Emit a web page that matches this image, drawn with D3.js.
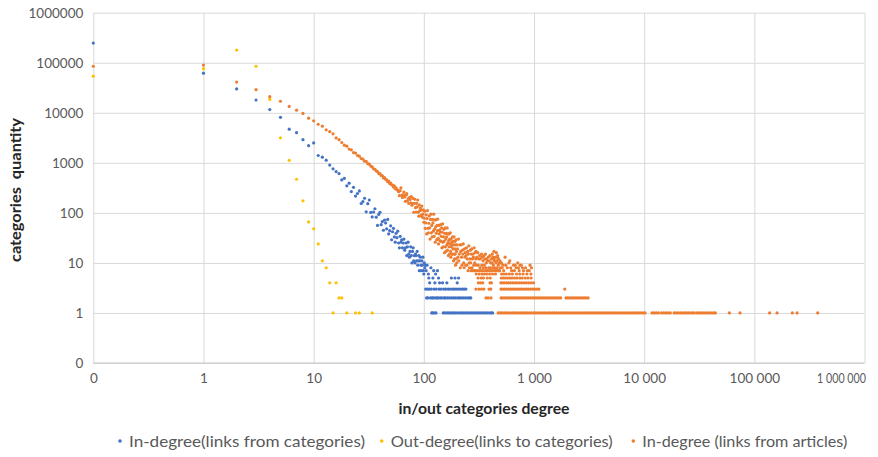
<!DOCTYPE html>
<html>
<head>
<meta charset="utf-8">
<script src="https://cdn.jsdelivr.net/npm/d3@7"></script>
<style>
  html, body { margin: 0; padding: 0; background: #fff; }
  svg { display: block; font-family: Lato, "Open Sans", "Liberation Sans", sans-serif; }
</style>
</head>
<body>
<svg id="chart" width="878" height="457"></svg>
<script>
// ---- axis ticks -------------------------------------------------------
// A zero degree / zero count cannot sit on a log axis, so both axes start
// one decade below 1 and that floor is labelled "0".
const AXIS_FLOOR = 0.1;
const xTickValues = [0.1, 1, 10, 100, 1000, 10000, 100000, 1000000];
const xTickLabels = ["0", "1", "10", "100", "1 000", "10 000", "100 000", "1 000 000"];
const yTickValues = [0.1, 1, 10, 100, 1000, 10000, 100000, 1000000];
const yTickLabels = ["0", "1", "10", "100", "1000", "10000", "100000", "1000000"];

const seriesNames = [
  "In-degree(links from categories)",
  "Out-degree(links to categories)",
  "In-degree (links from articles)"
];

// ---- In-degree (links from categories): [degree, categories] ----------
const inCatHead = [
  [0,247000],[1,62000],[2,30000],[3,18000],[4,11600],[5,8100],[6,4700],[7,4000],
  [8,2900],[9,2200],[10,2500],[11,1400],[12,1300],[13,1130],[14,900],[15,760],
  [16,670],[17,610],[18,455],[19,490],[20,347],[21,393],[22,267],[23,324],[24,217],
  [25,244],[26,274],[27,154],[28,168],[29,196],[30,105],[31,153],[32,181],[33,102],
  [34,83],[35,104],[36,121],[37,82],[38,56],[39,93],[40,103],[41,58],[42,67],[43,45],
  [44,72],[45,63],[46,48],[47,74],[48,38],[49,44],[50,55],[51,29],[52,42],[53,49],
  [54,33],[55,26],[56,39],[57,32],[58,43],[59,25],[60,20],[61,34],[62,26],[63,29],
  [64,20],[65,25],[66,30],[67,18],[68,20],[69,25],[70,14],[71,21],[72,26],[73,15],
  [74,13],[75,17],[76,21],[77,14],[78,10],[79,17],[80,20],[81,11],[82,14],[83,10],
  [84,15],[85,14],[86,11],[87,17],[88,9],[89,11],[90,14],[91,7],[92,11],[93,13],
  [94,9],[95,7],[96,11],[97,9],[98,13],[99,7],[100,6],[101,10],[102,8],[103,9],
  [105,7],[107,9],[110,6],[116,8],[123,7],[128,6],[133,7]
];
const inCatCount5 = [111, 121, 136, 178, 192, 207];
const inCatCount4 = [113, 126, 139, 148, 162, 201];
const inCatCount3 = [104, 108, 112, 117, 124, 130, 138, 144, 152, 158, 166, 173, 182, 188, 196, 205, 214, 224, 232, 241];
const inCatCount2 = [106, 109, 115, 119, 122, 127, 132, 135, 141, 146, 153, 157, 164, 171, 179, 186, 194, 203, 211, 219, 228, 238, 249, 259, 267];
const inCatCount1 = [118, 120, 125, 129, 150, 156, 163, 169, 176, 184, 191, 199, 209, 218, 227, 237, 247, 258, 270, 281, 293, 306, 319, 332, 346, 361, 376, 392, 409, 421];

// ---- Out-degree (links to categories): [degree, categories] -----------
const outCat = [
  [0,54000],[1,76000],[2,179000],[3,85000],[4,18500],[5,3160],[6,1120],[7,470],
  [8,174],[9,66],[10,48],[11,24],[12,11],[13,8],[14,4],[15,1],[16,4],[17,2],
  [18,2],[20,1],[24,1],[26,1],[34,1]
];

// ---- In-degree (links from articles): [degree, categories] ------------
const inArtHead = [
  [0,85000],[1,90000],[2,41000],[3,29000],[4,21000],[5,17000],[6,13400],[7,11300],
  [8,9700],[9,7800],[10,6900],[11,5900],[12,5400],[13,4570],[14,4200],[15,3800],
  [16,3150],[17,2900],[18,2550],[19,2250],[20,2150],[21,1880],[22,1820],[23,1600],
  [24,1570],[25,1400],[26,1360],[27,1220],[28,1190],[29,1080],[30,1070],[31,960],
  [32,940],[33,860],[34,830],[35,760],[36,745],[37,690],[38,670],[39,610],[40,610],
  [41,560],[42,550],[43,500],[44,505],[45,470],[46,455],[47,420],[48,430],[49,385],
  [50,395],[51,365],[52,360],[53,330],[54,345],[55,305],[56,315],[57,290],[58,285],
  [59,265],[60,221],[61,278],[62,316],[63,225],[64,204],[65,233],[66,261],[67,208],
  [68,170],[69,226],[70,242],[71,172],[72,190],[73,154],[74,202],[75,186],[76,159],
  [77,212],[78,142],[79,154],[80,194],[81,103],[82,155],[83,187],[84,127],[85,104],
  [86,155],[87,132],[88,181],[89,103],[90,86],[91,144],[92,111],[93,125],[94,89],
  [95,113],[96,137],[97,82],[98,94],[99,115],[100,65]
];
const inArtCloud = [
  [101,78],[102,108],[103,49],[104,63],[105,91],[106,38],[107,77],[108,111],[109,49],
  [110,40],[111,62],[112,87],[113,50],[114,30],[115,74],[116,94],[117,40],[118,56],
  [119,33],[120,74],[121,63],[122,43],[123,94],[124,34],[125,47],[126,72],[127,26],
  [128,52],[129,73],[130,39],[131,29],[132,56],[133,44],[134,75],[135,31],[136,24],
  [137,56],[138,38],[139,46],[140,28],[141,42],[142,58],[143,27],[144,34],[145,50],
  [146,20],[147,41],[148,60],[149,26],[150,21],[151,33],[152,47],[153,27],[154,16],
  [155,39],[156,50],[157,21],[158,30],[159,17],[160,39],[161,33],[162,23],[163,50],
  [164,18],[165,25],[166,38],[167,14],[168,28],[169,38],[170,21],[171,15],[172,30],
  [173,24],[174,40],[175,17],[176,13],[177,30],[178,21],[179,26],[180,15],[181,23],
  [182,33],[183,15],[184,19],[185,27],[186,11],[187,23],[188,33],[189,15],[190,12],
  [191,19],[192,27],[193,15],[194,9],[195,23],[196,29],[197,12],[198,17],[199,10],
  [200,23],[202,19],[204,13],[206,30],[208,11],[210,15],[212,23],[214,8],[216,17],
  [218,23],[220,13],[222,9],[224,18],[226,15],[228,24],[230,10],[232,8],[234,19],
  [236,13],[238,16],[240,9],[242,14],[244,20],[246,9],[248,12],[250,17],[252,7],
  [254,15],[256,22],[258,10],[260,8],[262,12],[264,18],[266,10],[268,7],[270,15],
  [272,19],[274,8],[276,12],[278,7],[280,15],[282,13],[284,9],[286,20],[288,7],
  [290,10],[292,16],[294,7],[296,12],[298,17],[300,9],[303,13],[306,7],[309,16],
  [312,9],[315,12],[319,7],[321,14],[324,8],[326,12],[330,7],[334,15],[336,9],
  [339,13],[342,7],[345,11],[347,8],[352,14],[354,9],[357,12],[360,7],[363,15],
  [366,8],[369,10],[372,12],[375,7],[378,11],[381,7],[385,13],[388,8],[392,11],
  [396,7],[398,14],[402,8],[405,10],[408,7],[412,12],[415,7],[418,10],[422,13],
  [425,8],[428,9],[432,12],[435,7],[438,11],[442,8],[446,13],[449,7],[453,10],
  [456,7],[459,11],[463,8],[466,13],[470,7],[474,9],[477,12],[481,7],[485,10],
  [488,7],[491,11],[495,8],[498,10],
  [419,15],[433,17],[455,16],[468,14],
  [507,10],[523,9],[547,13],[572,8],[603,11],[626,7],[652,9],[688,8],[712,10],
  [733,7],[766,9],[803,7],[838,8],[905,7],[948,8],[514,8],[531,7],[555,9],[592,10],
  [615,8],[663,7],[675,9],[722,8],[748,9],[785,8],[871,7],[921,9]
];
const inArtCount6 = [299, 318, 337, 353, 371, 395, 421, 447, 509, 533, 561, 598, 637, 694, 742, 797, 861, 938];
const inArtCount5 = [311, 332, 348, 377, 401, 505, 527, 551, 577, 606, 633, 668, 703, 745, 781, 833, 883, 941];
const inArtCount4 = [313, 327, 343, 399, 411, 501, 518, 538, 563, 587, 611, 642, 671, 701, 737, 771, 811, 851, 893, 943, 991];
const inArtCount3 = [297, 316, 333, 351, 391, 406, 502, 521, 544, 566, 591, 617, 643, 669, 698, 727, 759, 791, 825, 862, 898, 936, 977, 1018, 1061, 1107, 1903];
const inArtCount2 = [367, 384, 407, 503, 522, 545, 568, 593, 618, 645, 672, 699, 729, 761, 793, 827, 863, 899, 937, 979, 1016, 1059, 1104, 1151, 1199, 1251, 1304, 1361, 1418, 1478, 1541, 1607, 1675, 1746, 1952, 2031, 2119, 2211, 2302, 2401, 2503, 2612, 2721, 2843, 2961, 3098];
const inArtCount1 = [
  473, 494, 511, 535, 557, 584, 612, 639, 666, 696, 731, 763, 796, 829, 866, 906, 946, 993,
  1033, 1082, 1128, 1181, 1234, 1287, 1349, 1406, 1472, 1534, 1603, 1679, 1755, 1830, 1917,
  1998, 2088, 2185, 2281, 2388, 2491, 2607, 2724, 2847, 2970, 3109, 3244, 3391, 3547, 3703,
  3869, 4043, 4229, 4415, 4618, 4822, 5043, 5266, 5507, 5751, 6014, 6281, 6567, 6859, 7172,
  7490, 7831, 8180, 8552, 8933, 9339, 9755, 10198,
  11790, 12310, 12880, 13520, 14410, 15090, 15810, 16530, 17290, 18710, 19540, 20380,
  21320, 22270, 23190, 24020, 25110, 26230, 27380, 28590, 30210, 31520, 32880, 34390,
  35970, 37610, 39280, 41090, 42870, 44310, 59340, 74080, 137650, 160820, 221370,
  244290, 376030
];

// ---- assemble the three series ----------------------------------------
const withCount = (degrees, count) => degrees.map(d => [d, count]);

const series = [
  { name: seriesNames[0], color: "#4472C4", legendWidth: 236,
    points: inCatHead.concat(withCount(inCatCount5, 5), withCount(inCatCount4, 4),
      withCount(inCatCount3, 3), withCount(inCatCount2, 2), withCount(inCatCount1, 1)) },
  { name: seriesNames[1], color: "#FFC000", legendWidth: 222, points: outCat },
  { name: seriesNames[2], color: "#ED7D31", legendWidth: 205,
    points: inArtHead.concat(inArtCloud, withCount(inArtCount6, 6), withCount(inArtCount5, 5),
      withCount(inArtCount4, 4), withCount(inArtCount3, 3), withCount(inArtCount2, 2),
      withCount(inArtCount1, 1)) }
];

// ---- layout ------------------------------------------------------------
const plot = { left: 93.3, right: 864.5, top: 12.7, bottom: 363 };

const x = d3.scaleLog().domain([AXIS_FLOOR, 1e6]).range([plot.left, plot.right]);
const y = d3.scaleLog().domain([AXIS_FLOOR, 1e6]).range([plot.bottom, plot.top]);
const px = v => x(Math.max(v, AXIS_FLOOR));
const py = v => y(Math.max(v, AXIS_FLOOR));

const svg = d3.select("#chart");

// gridlines
const grid = svg.append("g").attr("class", "grid");
grid.append("g")
  .attr("transform", `translate(0,${plot.bottom})`)
  .call(d3.axisBottom(x).tickValues(xTickValues).tickSize(-(plot.bottom - plot.top)).tickFormat(""))
  .call(g => g.select(".domain").remove())
  .call(g => g.selectAll("line").attr("stroke", "#d9d9d9").attr("stroke-width", 1));
grid.append("g")
  .attr("transform", `translate(${plot.left},0)`)
  .call(d3.axisLeft(y).tickValues(yTickValues).tickSize(-(plot.right - plot.left)).tickFormat(""))
  .call(g => g.select(".domain").remove())
  .call(g => g.selectAll("line").attr("stroke", "#d9d9d9").attr("stroke-width", 1));

// horizontal axis line
svg.append("line")
  .attr("x1", plot.left).attr("x2", plot.right)
  .attr("y1", plot.bottom).attr("y2", plot.bottom)
  .attr("stroke", "#c8c8c8").attr("stroke-width", 1);

// tick labels
const tickFont = g => g.selectAll("text").attr("fill", "#595959")
  .style("font-size", "13.5px").style("font-family", "Lato, 'Open Sans', sans-serif");

const yAxis = svg.append("g")
  .attr("transform", `translate(${plot.left},0)`)
  .call(d3.axisLeft(y).tickValues(yTickValues).tickSize(0).tickPadding(10)
    .tickFormat((d, i) => yTickLabels[i]));
yAxis.select(".domain").remove();
yAxis.call(tickFont);

const xAxis = svg.append("g")
  .attr("transform", `translate(0,${plot.bottom})`)
  .call(d3.axisBottom(x).tickValues(xTickValues).tickSize(0).tickPadding(10)
    .tickFormat((d, i) => xTickLabels[i]));
xAxis.select(".domain").remove();
xAxis.call(tickFont);
// the last label is kept inside the chart's right edge
xAxis.selectAll(".tick").filter(d => d === 1e6).select("text")
  .attr("text-anchor", "end").attr("x", plot.right + 1 - x(1e6))
  .attr("textLength", 49).attr("lengthAdjust", "spacingAndGlyphs");

// axis titles
svg.append("text")
  .attr("transform", `translate(21,190) rotate(-90)`)
  .attr("text-anchor", "middle")
  .attr("fill", "#262626")
  .attr("textLength", 144).attr("lengthAdjust", "spacingAndGlyphs")
  .style("font-size", "16px").style("font-weight", "bold")
  .style("white-space", "pre")
  .text("categories  quantity");

svg.append("text")
  .attr("x", 484).attr("y", 414)
  .attr("text-anchor", "middle")
  .attr("fill", "#262626")
  .attr("textLength", 171).attr("lengthAdjust", "spacingAndGlyphs")
  .style("font-size", "16px").style("font-weight", "bold")
  .text("in/out categories degree");

// points
const marks = svg.append("g").attr("class", "marks");
series.forEach(s => {
  marks.append("g")
    .selectAll("circle")
    .data(s.points)
    .join("circle")
    .attr("cx", d => px(d[0]))
    .attr("cy", d => py(d[1]))
    .attr("r", 1.6)
    .attr("fill", s.color);
});

// legend
const legendPos = [120, 381.7, 633.3];
const legend = svg.append("g").attr("class", "legend");
series.forEach((s, i) => {
  const g = legend.append("g").attr("transform", `translate(${legendPos[i]},441)`);
  g.append("circle").attr("r", 1.8).attr("fill", s.color);
  g.append("text")
    .attr("x", 9).attr("y", 5.5)
    .attr("fill", "#595959")
    .attr("textLength", s.legendWidth).attr("lengthAdjust", "spacingAndGlyphs")
    .style("font-size", "16px")
    .text(s.name);
});
</script>
</body>
</html>
